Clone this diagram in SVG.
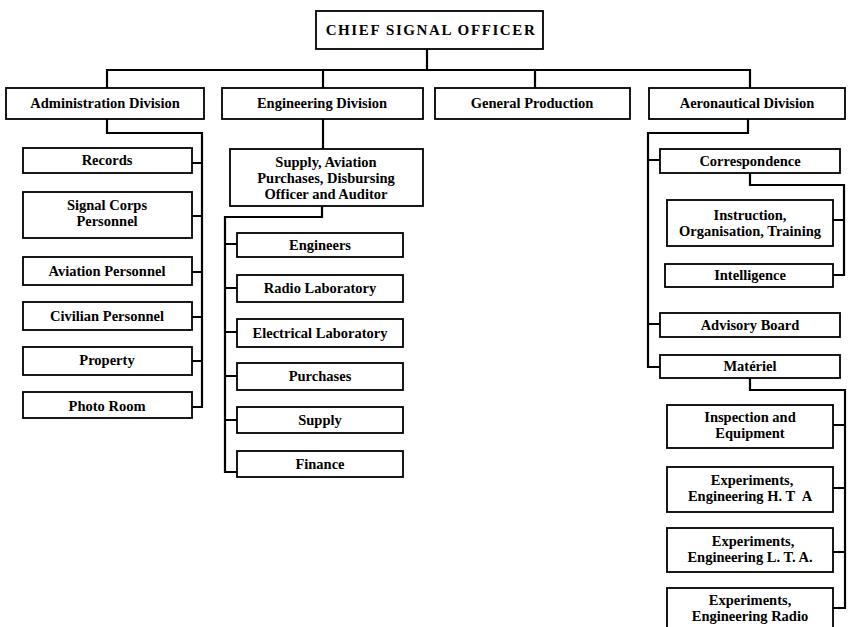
<svg xmlns="http://www.w3.org/2000/svg" width="850" height="627" viewBox="0 0 850 627">
<style>
.b{fill:#fff;stroke:#000;stroke-width:1.8}
.t{font-family:"Liberation Serif",serif;font-weight:bold;font-size:14.5px;text-anchor:middle;fill:#000}
.c{fill:none;stroke:#000;stroke-width:2.2}
</style>
<rect width="850" height="627" fill="#fff"/>
<g id="connectors">
<path class="c" d="M427,49V70M107,88V70H750V88M323,70V88M535,70V88"/>
<path class="c" d="M107,119V133H202V407H192M192,163H202M192,216H202M192,272H202M192,317H202M192,361H202"/>
<path class="c" d="M323,119V149M322,206V217H225V472H237M225,244H237M225,288H237M225,332H237M225,376H237M225,420H237"/>
<path class="c" d="M748,119V133H648V367H660M648,160H660M648,324H660"/>
<path class="c" d="M750,173V185H844V275H833M833,220H844"/>
<path class="c" d="M750,378V390H845V608H833M833,425H845M833,488H845M833,552H845"/>
</g>
<g id="chief"><rect class="b" x="316" y="11" width="227" height="38"/><text class="t" x="431" y="35" style="font-size:15px;letter-spacing:1.6px">CHIEF SIGNAL OFFICER</text></g>
<g id="admin"><rect class="b" x="6" y="88" width="198" height="31"/><text class="t" x="105" y="108">Administration Division</text></g>
<g id="eng"><rect class="b" x="222" y="88" width="201" height="31"/><text class="t" x="322" y="108">Engineering Division</text></g>
<g id="genprod"><rect class="b" x="435" y="88" width="195" height="31"/><text class="t" x="532" y="108">General Production</text></g>
<g id="aero"><rect class="b" x="649" y="88" width="196" height="31"/><text class="t" x="747" y="108">Aeronautical Division</text></g>

<g id="records"><rect class="b" x="23" y="148" width="169" height="25"/><text class="t" x="107" y="165">Records</text></g>
<g id="signalcorps"><rect class="b" x="23" y="192" width="169" height="46"/><text class="t" x="107" y="210">Signal Corps</text><text class="t" x="107" y="226">Personnel</text></g>
<g id="aviationpers"><rect class="b" x="23" y="257" width="169" height="28"/><text class="t" x="107" y="276">Aviation Personnel</text></g>
<g id="civilian"><rect class="b" x="23" y="302" width="169" height="28"/><text class="t" x="107" y="321">Civilian Personnel</text></g>
<g id="property"><rect class="b" x="23" y="347" width="169" height="28"/><text class="t" x="107" y="365">Property</text></g>
<g id="photo"><rect class="b" x="23" y="392" width="169" height="26"/><text class="t" x="107" y="411">Photo Room</text></g>

<g id="supplyaviation"><rect class="b" x="230" y="149" width="193" height="57"/><text class="t" x="326" y="167">Supply, Aviation</text><text class="t" x="326" y="183">Purchases, Disbursing</text><text class="t" x="326" y="199">Officer and Auditor</text></g>
<g id="engineers"><rect class="b" x="237" y="233" width="166" height="24"/><text class="t" x="320" y="250">Engineers</text></g>
<g id="radiolab"><rect class="b" x="237" y="275" width="166" height="27"/><text class="t" x="320" y="293">Radio Laboratory</text></g>
<g id="eleclab"><rect class="b" x="237" y="319" width="166" height="28"/><text class="t" x="320" y="338">Electrical Laboratory</text></g>
<g id="purchases"><rect class="b" x="237" y="363" width="166" height="27"/><text class="t" x="320" y="381">Purchases</text></g>
<g id="supply"><rect class="b" x="237" y="407" width="166" height="26"/><text class="t" x="320" y="425">Supply</text></g>
<g id="finance"><rect class="b" x="237" y="451" width="166" height="26"/><text class="t" x="320" y="469">Finance</text></g>

<g id="correspondence"><rect class="b" x="660" y="149" width="180" height="24"/><text class="t" x="750" y="166">Correspondence</text></g>
<g id="instruction"><rect class="b" x="667" y="200" width="166" height="46"/><text class="t" x="750" y="220">Instruction,</text><text class="t" x="750" y="236">Organisation, Training</text></g>
<g id="intelligence"><rect class="b" x="665" y="264" width="168" height="23"/><text class="t" x="750" y="280">Intelligence</text></g>
<g id="advisory"><rect class="b" x="660" y="313" width="180" height="24"/><text class="t" x="750" y="330">Advisory Board</text></g>
<g id="materiel"><rect class="b" x="660" y="355" width="180" height="23"/><text class="t" x="750" y="371">Matériel</text></g>
<g id="inspection"><rect class="b" x="667" y="405" width="166" height="43"/><text class="t" x="750" y="422">Inspection and</text><text class="t" x="750" y="438">Equipment</text></g>
<g id="hta"><rect class="b" x="667" y="467" width="166" height="45"/><text class="t" x="752" y="485">Experiments,</text><text class="t" x="750" y="501">Engineering H. T&#160; A</text></g>
<g id="lta"><rect class="b" x="667" y="528" width="166" height="44"/><text class="t" x="753" y="546">Experiments,</text><text class="t" x="750" y="562">Engineering L. T. A.</text></g>
<g id="radio"><rect class="b" x="667" y="588" width="166" height="42"/><text class="t" x="750" y="605">Experiments,</text><text class="t" x="750" y="621">Engineering Radio</text></g>
</svg>
